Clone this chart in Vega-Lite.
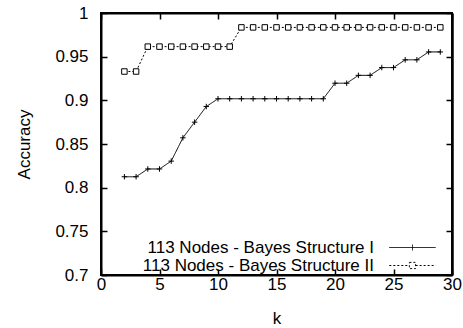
{
  "$schema": "https://vega.github.io/schema/vega-lite/v6.json",
  "autosize": {"type": "none"},
  "padding": {"left": 101, "top": 13, "right": 11, "bottom": 53},
  "width": 351,
  "height": 262,
  "view": {"stroke": "black", "strokeWidth": 2, "fill": null},
  "config": {
    "font": "Liberation Sans",
    "view": {"stroke": "black", "strokeWidth": 2},
    "axis": {
      "domainColor": "black",
      "domainWidth": 2,
      "tickColor": "black",
      "tickWidth": 1.5,
      "tickSize": -6,
      "grid": false,
      "labelFlush": false,
      "labelFont": "Liberation Sans",
      "labelFontSize": 17,
      "labelColor": "black",
      "titleFont": "Liberation Sans",
      "titleFontSize": 17,
      "titleFontWeight": "normal",
      "titleColor": "black"
    }
  },
  "data": {
    "values": [
      {"k": 2, "acc": 0.8125, "series": "113 Nodes - Bayes Structure I"},
      {"k": 3, "acc": 0.8125, "series": "113 Nodes - Bayes Structure I"},
      {"k": 4, "acc": 0.8214, "series": "113 Nodes - Bayes Structure I"},
      {"k": 5, "acc": 0.8214, "series": "113 Nodes - Bayes Structure I"},
      {"k": 6, "acc": 0.8304, "series": "113 Nodes - Bayes Structure I"},
      {"k": 7, "acc": 0.8571, "series": "113 Nodes - Bayes Structure I"},
      {"k": 8, "acc": 0.875, "series": "113 Nodes - Bayes Structure I"},
      {"k": 9, "acc": 0.8929, "series": "113 Nodes - Bayes Structure I"},
      {"k": 10, "acc": 0.9018, "series": "113 Nodes - Bayes Structure I"},
      {"k": 11, "acc": 0.9018, "series": "113 Nodes - Bayes Structure I"},
      {"k": 12, "acc": 0.9018, "series": "113 Nodes - Bayes Structure I"},
      {"k": 13, "acc": 0.9018, "series": "113 Nodes - Bayes Structure I"},
      {"k": 14, "acc": 0.9018, "series": "113 Nodes - Bayes Structure I"},
      {"k": 15, "acc": 0.9018, "series": "113 Nodes - Bayes Structure I"},
      {"k": 16, "acc": 0.9018, "series": "113 Nodes - Bayes Structure I"},
      {"k": 17, "acc": 0.9018, "series": "113 Nodes - Bayes Structure I"},
      {"k": 18, "acc": 0.9018, "series": "113 Nodes - Bayes Structure I"},
      {"k": 19, "acc": 0.9018, "series": "113 Nodes - Bayes Structure I"},
      {"k": 20, "acc": 0.9196, "series": "113 Nodes - Bayes Structure I"},
      {"k": 21, "acc": 0.9196, "series": "113 Nodes - Bayes Structure I"},
      {"k": 22, "acc": 0.9286, "series": "113 Nodes - Bayes Structure I"},
      {"k": 23, "acc": 0.9286, "series": "113 Nodes - Bayes Structure I"},
      {"k": 24, "acc": 0.9375, "series": "113 Nodes - Bayes Structure I"},
      {"k": 25, "acc": 0.9375, "series": "113 Nodes - Bayes Structure I"},
      {"k": 26, "acc": 0.9464, "series": "113 Nodes - Bayes Structure I"},
      {"k": 27, "acc": 0.9464, "series": "113 Nodes - Bayes Structure I"},
      {"k": 28, "acc": 0.9554, "series": "113 Nodes - Bayes Structure I"},
      {"k": 29, "acc": 0.9554, "series": "113 Nodes - Bayes Structure I"},
      {"k": 2, "acc": 0.933, "series": "113 Nodes - Bayes Structure II"},
      {"k": 3, "acc": 0.933, "series": "113 Nodes - Bayes Structure II"},
      {"k": 4, "acc": 0.9615, "series": "113 Nodes - Bayes Structure II"},
      {"k": 5, "acc": 0.9615, "series": "113 Nodes - Bayes Structure II"},
      {"k": 6, "acc": 0.9615, "series": "113 Nodes - Bayes Structure II"},
      {"k": 7, "acc": 0.9615, "series": "113 Nodes - Bayes Structure II"},
      {"k": 8, "acc": 0.9615, "series": "113 Nodes - Bayes Structure II"},
      {"k": 9, "acc": 0.9615, "series": "113 Nodes - Bayes Structure II"},
      {"k": 10, "acc": 0.9615, "series": "113 Nodes - Bayes Structure II"},
      {"k": 11, "acc": 0.9615, "series": "113 Nodes - Bayes Structure II"},
      {"k": 12, "acc": 0.9835, "series": "113 Nodes - Bayes Structure II"},
      {"k": 13, "acc": 0.9835, "series": "113 Nodes - Bayes Structure II"},
      {"k": 14, "acc": 0.9835, "series": "113 Nodes - Bayes Structure II"},
      {"k": 15, "acc": 0.9835, "series": "113 Nodes - Bayes Structure II"},
      {"k": 16, "acc": 0.9835, "series": "113 Nodes - Bayes Structure II"},
      {"k": 17, "acc": 0.9835, "series": "113 Nodes - Bayes Structure II"},
      {"k": 18, "acc": 0.9835, "series": "113 Nodes - Bayes Structure II"},
      {"k": 19, "acc": 0.9835, "series": "113 Nodes - Bayes Structure II"},
      {"k": 20, "acc": 0.9835, "series": "113 Nodes - Bayes Structure II"},
      {"k": 21, "acc": 0.9835, "series": "113 Nodes - Bayes Structure II"},
      {"k": 22, "acc": 0.9835, "series": "113 Nodes - Bayes Structure II"},
      {"k": 23, "acc": 0.9835, "series": "113 Nodes - Bayes Structure II"},
      {"k": 24, "acc": 0.9835, "series": "113 Nodes - Bayes Structure II"},
      {"k": 25, "acc": 0.9835, "series": "113 Nodes - Bayes Structure II"},
      {"k": 26, "acc": 0.9835, "series": "113 Nodes - Bayes Structure II"},
      {"k": 27, "acc": 0.9835, "series": "113 Nodes - Bayes Structure II"},
      {"k": 28, "acc": 0.9835, "series": "113 Nodes - Bayes Structure II"},
      {"k": 29, "acc": 0.9835, "series": "113 Nodes - Bayes Structure II"}
    ]
  },
  "resolve": {"axis": {"x": "independent", "y": "independent"}},
  "layer": [
    {
      "mark": {"type": "line", "color": "black", "strokeWidth": 1},
      "encoding": {
        "x": {
          "field": "k", "type": "quantitative",
          "scale": {"domain": [0, 30], "nice": false},
          "axis": {"orient": "bottom", "title": "k", "values": [0, 5, 10, 15, 20, 25, 30], "labelPadding": 7, "titlePadding": 18}
        },
        "y": {
          "field": "acc", "type": "quantitative",
          "scale": {"domain": [0.7, 1], "nice": false, "zero": false},
          "axis": {"orient": "left", "title": "Accuracy", "values": [0.7, 0.75, 0.8, 0.85, 0.9, 0.95, 1], "format": "~g", "labelPadding": 19, "titlePadding": 21}
        },
        "strokeDash": {
          "field": "series", "type": "nominal",
          "scale": {"range": [[1, 0], [2, 2]]},
          "legend": {
            "title": null,
            "orient": "none",
            "legendX": 55,
            "legendY": 226,
            "labelFontSize": 17,
            "labelFont": "Liberation Sans",
            "labelColor": "black",
            "labelAlign": "right",
            "labelLimit": 400,
            "symbolSize": 256,
            "symbolStrokeWidth": 1,
            "symbolStrokeColor": "black",
            "symbolOffset": 248,
            "labelOffset": -47,
            "rowPadding": 0,
            "padding": 0,
            "encode": {
              "symbols": {
                "update": {
                  "shape": {"signal": "datum.value === '113 Nodes - Bayes Structure I' ? 'M-2.9,0H2.9M0,-0.36V0.36' : 'M-2.9,0H-0.39M0.39,0H2.9M-0.39,-0.39H0.39V0.39H-0.39Z'"},
                  "stroke": {"value": "black"},
                  "fill": {"value": "transparent"}
                }
              }
            }
          }
        }
      }
    },
    {
      "mark": {"type": "point", "filled": true, "fill": "white", "stroke": "black", "strokeWidth": 1, "size": 30, "opacity": 1},
      "encoding": {
        "x": {
          "field": "k", "type": "quantitative",
          "axis": {"orient": "top", "title": null, "labels": false, "domain": true, "ticks": true, "values": [0, 5, 10, 15, 20, 25, 30]}
        },
        "y": {
          "field": "acc", "type": "quantitative",
          "axis": {"orient": "right", "title": null, "labels": false, "domain": true, "domainWidth": 2.5, "ticks": true, "values": [0.7, 0.75, 0.8, 0.85, 0.9, 0.95, 1]}
        },
        "shape": {
          "field": "series", "type": "nominal",
          "scale": {"range": ["M-1,0H1M0,-1V1", "square"]},
          "legend": null
        }
      }
    }
  ]
}
